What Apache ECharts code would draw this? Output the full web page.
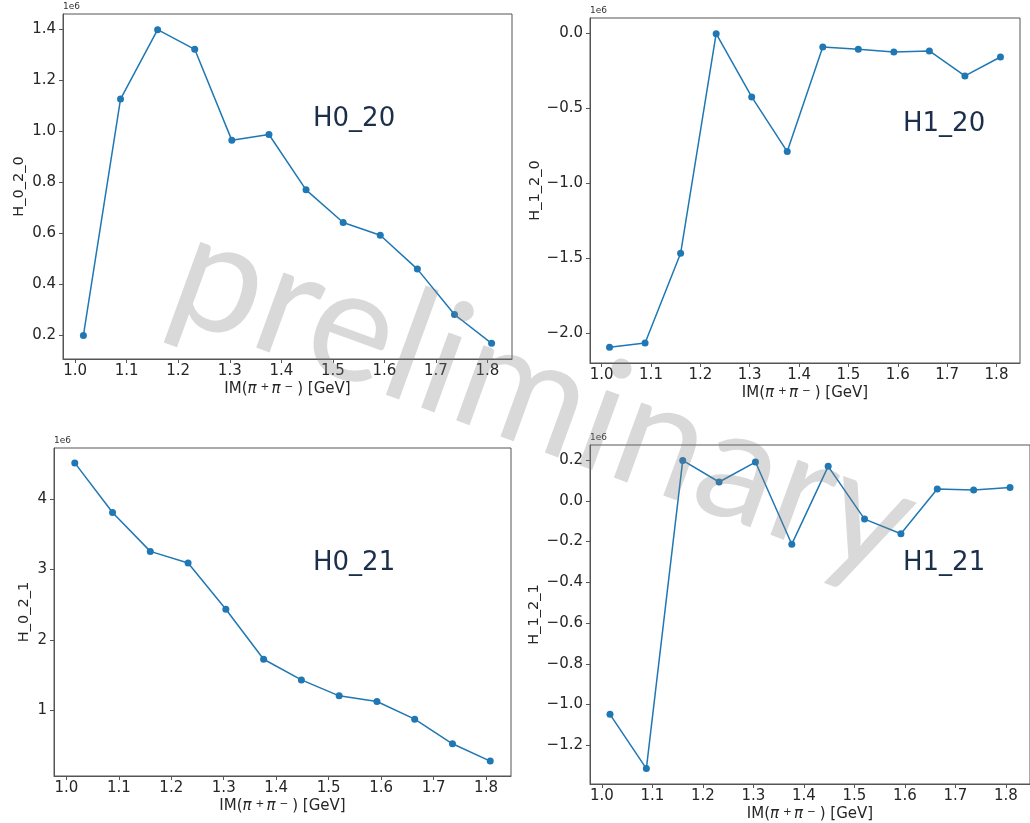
<!DOCTYPE html>
<html>
<head>
<meta charset="utf-8">
<script src="https://cdn.jsdelivr.net/npm/echarts@6/dist/echarts.min.js"></script>
<style>
  html, body { margin: 0; padding: 0; background: #ffffff; }
  #chart { width: 1030px; height: 823px; }
</style>
</head>
<body>
<div id="chart"></div>
<script>
// Invariant-mass bin centres, GeV
const massBins = [1.016, 1.088, 1.160, 1.232, 1.304, 1.376, 1.448, 1.520, 1.592, 1.664, 1.736, 1.808];
const massTicks = [1.0, 1.1, 1.2, 1.3, 1.4, 1.5, 1.6, 1.7, 1.8];

// Moments per mass bin, in units of 1e6
const h0_2_0 = [0.200, 1.127, 1.399, 1.322, 0.965, 0.988, 0.771, 0.643, 0.593, 0.460, 0.282, 0.169];
const h1_2_0 = [-2.093, -2.064, -1.467, -0.005, -0.426, -0.790, -0.093, -0.109, -0.127, -0.120, -0.286, -0.160];
const h0_2_1 = [4.509, 3.807, 3.255, 3.090, 2.434, 1.726, 1.434, 1.208, 1.127, 0.877, 0.528, 0.283];
const h1_2_1 = [-1.048, -1.314, 0.198, 0.092, 0.190, -0.213, 0.169, -0.090, -0.162, 0.058, 0.053, 0.065];

// Tick values for each y axis
const ticksH020 = [0.2, 0.4, 0.6, 0.8, 1.0, 1.2, 1.4];
const ticksH120 = [-2.0, -1.5, -1.0, -0.5, 0.0];
const ticksH021 = [1, 2, 3, 4];
const ticksH121 = [-1.2, -1.0, -0.8, -0.6, -0.4, -0.2, 0.0, 0.2];

const panels = [
  { yName: 'H_0_2_0', tag: 'H0_20', data: h0_2_0, ticks: ticksH020, dec: 1,
    grid: { left: 63, top: 14, width: 449, height: 345 }, nameGap: 36, tagPos: [313, 119] },
  { yName: 'H_1_2_0', tag: 'H1_20', data: h1_2_0, ticks: ticksH120, dec: 1,
    grid: { left: 590, top: 18, width: 430, height: 345 }, nameGap: 47, tagPos: [903, 124] },
  { yName: 'H_0_2_1', tag: 'H0_21', data: h0_2_1, ticks: ticksH021, dec: 0,
    grid: { left: 54, top: 448, width: 457, height: 328 }, nameGap: 22, tagPos: [313, 563] },
  { yName: 'H_1_2_1', tag: 'H1_21', data: h1_2_1, ticks: ticksH121, dec: 1,
    grid: { left: 590, top: 445, width: 442, height: 340 }, nameGap: 48, tagPos: [903, 563] }
];

// Axis limits padded by 5 % of the data span on each side
function padded(arr) {
  const lo = Math.min(...arr), hi = Math.max(...arr), m = 0.05 * (hi - lo);
  return [lo - m, hi + m];
}
const [xMin, xMax] = padded(massBins);

const AX = '#555555';
const TXT = '#262626';
const MONO = 'DejaVu Sans';

const fmt = dec => v => v.toFixed(dec).replace('-', '\u2212');

const grids = [], xAxes = [], yAxes = [], series = [], graphics = [];

panels.forEach((p, i) => {
  const [yMin, yMax] = padded(p.data);
  grids.push(Object.assign({ show: true, borderColor: AX, borderWidth: 1, backgroundColor: 'transparent' }, p.grid));
  xAxes.push({
    type: 'value', gridIndex: i, min: xMin, max: xMax,
    name: 'IM({it|\u03c0}{supA|+}{it|\u03c0}{supB|\u2212}) [GeV]',
    nameLocation: 'middle', nameGap: 23,
    nameTextStyle: {
      fontFamily: MONO, fontSize: 15, color: TXT,
      rich: {
        it: { fontFamily: MONO, fontStyle: 'italic', fontSize: 15, color: TXT },
        supA: { fontFamily: MONO, fontSize: 10.5, color: TXT, verticalAlign: 'top', padding: [0, 2, 0, 4] },
        supB: { fontFamily: MONO, fontSize: 10.5, color: TXT, verticalAlign: 'top', padding: [0, 4, 0, 4] }
      }
    },
    splitLine: { show: false },
    axisLine: { show: true, onZero: false, lineStyle: { color: AX, width: 1 } },
    axisTick: { show: true, length: 4, lineStyle: { color: AX }, customValues: massTicks },
    axisLabel: { fontFamily: MONO, fontSize: 15, color: TXT, margin: 5, customValues: massTicks, formatter: fmt(1) }
  });
  yAxes.push({
    type: 'value', gridIndex: i, min: yMin, max: yMax,
    name: p.yName, nameLocation: 'middle', nameGap: p.nameGap,
    nameTextStyle: { fontFamily: MONO, fontSize: 14.5, color: TXT },
    splitLine: { show: false },
    axisLine: { show: true, onZero: false, lineStyle: { color: AX, width: 1 } },
    axisTick: { show: true, length: 4, lineStyle: { color: AX }, customValues: p.ticks },
    axisLabel: { fontFamily: MONO, fontSize: 15, color: TXT, margin: 7, customValues: p.ticks, formatter: fmt(p.dec) }
  });
  series.push({
    type: 'line', xAxisIndex: i, yAxisIndex: i,
    data: massBins.map((x, j) => [x, p.data[j]]),
    symbol: 'circle', symbolSize: 7, showSymbol: true,
    lineStyle: { color: '#1f77b4', width: 1.5 },
    itemStyle: { color: '#1f77b4' },
    emphasis: { disabled: true },
    animation: false
  });
  // scale factor above each y axis
  graphics.push({
    type: 'text', left: p.grid.left, top: p.grid.top - 12, silent: true,
    style: { text: '1e6', font: '9px "DejaVu Sans"', fill: '#333333' }
  });
  // panel tag
  graphics.push({
    type: 'text', x: p.tagPos[0], y: p.tagPos[1], silent: true, z: 50,
    style: { text: p.tag, font: '26px "DejaVu Sans"', fill: '#1b2f4b', align: 'left', verticalAlign: 'middle' }
  });
});

// "preliminary" watermark across the figure
graphics.push({
  type: 'text', x: 544, y: 398, rotation: -20 * Math.PI / 180, silent: true, z: 100,
  style: {
    text: 'preliminary', font: '400 158px "Lato"',
    fill: 'rgba(128,128,128,0.3)', align: 'center', verticalAlign: 'middle'
  }
});

const chart = echarts.init(document.getElementById('chart'), null, { renderer: 'canvas' });
chart.setOption({
  animation: false,
  backgroundColor: '#ffffff',
  grid: grids,
  xAxis: xAxes,
  yAxis: yAxes,
  series: series,
  graphic: graphics
});
</script>
</body>
</html>
